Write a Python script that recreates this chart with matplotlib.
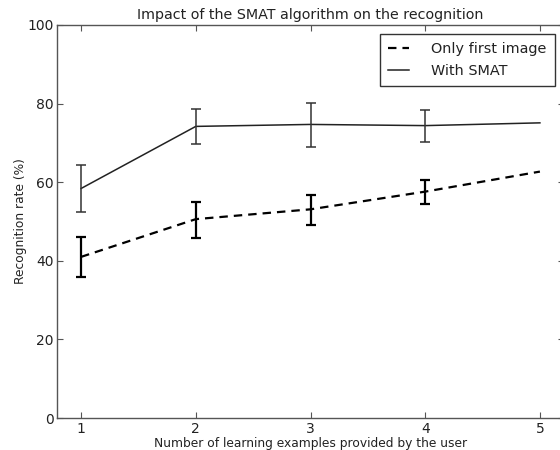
import matplotlib
matplotlib.use("Agg")
import matplotlib.pyplot as plt
import numpy as np

examples = [1, 2, 3, 4, 5]
first_mean = [41.0, 50.6, 53.1, 57.6, 62.7]
first_low = [36.0, 45.7, 49.1, 54.5, 62.7]
first_high = [46.0, 55.0, 56.7, 60.6, 62.7]
smat_mean = [58.4, 74.2, 74.7, 74.4, 75.1]
smat_low = [52.5, 69.7, 68.9, 70.2, 75.1]
smat_high = [64.4, 78.6, 80.2, 78.4, 75.1]

title = "Impact of the SMAT algorithm on the recognition"
xlabel = "Number of learning examples provided by the user"
ylabel = "Recognition rate (%)"

plt.rcParams['font.family'] = ['DejaVu Sans']
txt = '#222222'
fig = plt.figure(figsize=(5.6, 4.5), dpi=100)
ax = fig.add_axes([57/560, 32/450, 507/560, 393/450])

fm = np.array(first_mean); sm = np.array(smat_mean)
ferr = [fm - np.array(first_low), np.array(first_high) - fm]
serr = [sm - np.array(smat_low), np.array(smat_high) - sm]

l1, = ax.plot(examples, first_mean, color='black', lw=1.6, ls=(0, (3.8, 2.7)), label='Only first image')
ax.errorbar(examples[:4], first_mean[:4], yerr=[ferr[0][:4], ferr[1][:4]], fmt='none',
            ecolor='black', elinewidth=1.6, capsize=3.5, capthick=1.6)
l2, = ax.plot(examples, smat_mean, color='#222222', lw=1.1, label='With SMAT')
ax.errorbar(examples[:4], smat_mean[:4], yerr=[serr[0][:4], serr[1][:4]], fmt='none',
            ecolor='#333333', elinewidth=1.1, capsize=3.5, capthick=1.1)

ax.set_xlim(0.79, 5.21)
ax.set_ylim(0, 100)
ax.set_xticks(examples)
ax.set_yticks([0, 20, 40, 60, 80, 100])
ax.tick_params(direction='in', top=True, right=True, length=4, width=0.8,
               labelsize=10, colors='#555555', labelcolor=txt)
ax.tick_params(axis='x', pad=2.8)
ax.tick_params(axis='y', pad=2.5)
for s in ax.spines.values():
    s.set_color('#555555')
    s.set_linewidth(1.0)

ax.set_title(title, fontsize=10.3, color=txt, pad=4)
ax.set_xlabel(xlabel, fontsize=8.8, color=txt, labelpad=1)
ax.set_ylabel(ylabel, fontsize=8.8, color=txt, labelpad=0)

leg = ax.legend(handles=[l1, l2], loc='upper right', fontsize=10.4, frameon=True,
                fancybox=False, edgecolor='black', handlelength=1.45, handletextpad=1.55,
                borderaxespad=0.65, borderpad=0.55, labelspacing=0.55)
leg.get_frame().set_linewidth(1.0)
for t in leg.get_texts():
    t.set_color(txt)

fig.savefig("out.png", dpi=100)
